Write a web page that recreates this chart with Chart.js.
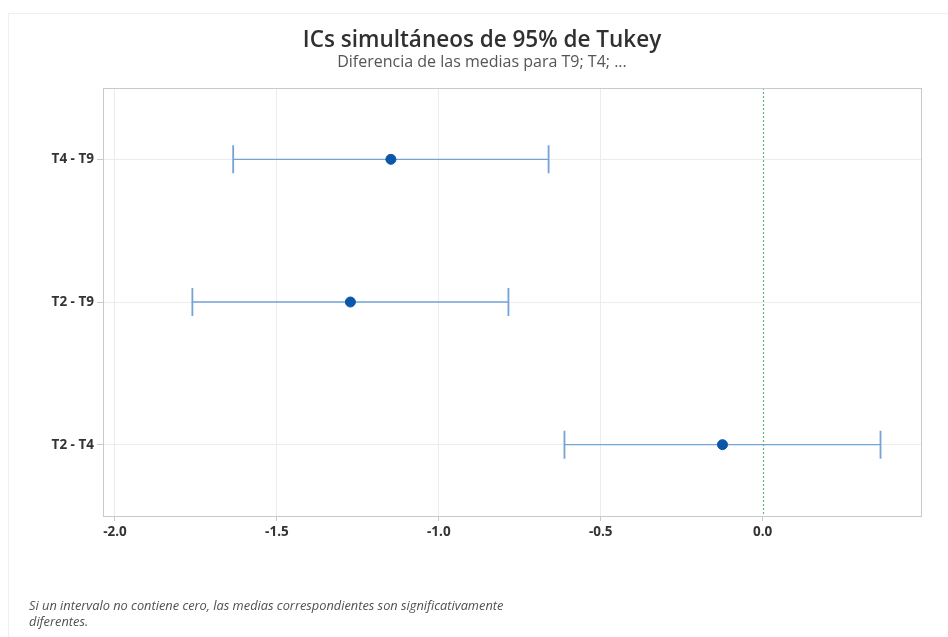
<!DOCTYPE html>
<html lang="es">
<head>
<meta charset="utf-8">
<title>ICs simultáneos de 95% de Tukey</title>
<script src="https://cdn.jsdelivr.net/npm/chart.js@4.4.1/dist/chart.umd.min.js"></script>
<style>
  html, body { margin: 0; padding: 0; background: #ffffff; }
  #wrap { width: 948px; height: 637px; position: relative; }
</style>
</head>
<body>
<div id="wrap"><canvas id="chart" width="948" height="637"></canvas></div>
<script>
// Pairwise comparisons (top to bottom)
const comparisons = ['T4 - T9', 'T2 - T9', 'T2 - T4'];
// Difference of means and the simultaneous 95% interval bounds
const meanDiff = [-1.148, -1.273, -0.124];
const lowerCI  = [-1.635, -1.761, -0.612];
const upperCI  = [-0.661, -0.785, 0.364];
// Axis tick values
const xTicks = [-2.0, -1.5, -1.0, -0.5, 0.0];

const titleText = 'ICs simultáneos de 95% de Tukey';
const subtitleText = 'Diferencia de las medias para T9; T4; ...';
const noteLines = [
  'Si un intervalo no contiene cero, las medias correspondientes son significativamente',
  'diferentes.'
];

const pointData = comparisons.map((c, i) => ({ x: meanDiff[i], y: c }));

// Interval whiskers with end caps and the zero reference line
const intervalPlugin = {
  id: 'intervals',
  beforeDatasetsDraw(chart) {
    const { ctx, chartArea, scales: { x, y } } = chart;
    ctx.save();
    ctx.strokeStyle = '#74a3d6';
    comparisons.forEach((c, i) => {
      const py = y.getPixelForValue(i);
      const x0 = x.getPixelForValue(lowerCI[i]);
      const x1 = x.getPixelForValue(upperCI[i]);
      ctx.lineWidth = 1.3;
      ctx.beginPath();
      ctx.moveTo(x0, py);
      ctx.lineTo(x1, py);
      ctx.stroke();
      ctx.lineWidth = 1.8;
      ctx.beginPath();
      ctx.moveTo(x0, py - 14);
      ctx.lineTo(x0, py + 14);
      ctx.moveTo(x1, py - 14);
      ctx.lineTo(x1, py + 14);
      ctx.stroke();
    });

    // reference at zero
    const zx = Math.round(x.getPixelForValue(0)) + 0.5;
    ctx.strokeStyle = '#5fb97f';
    ctx.lineWidth = 1.2;
    ctx.setLineDash([2, 2]);
    ctx.beginPath();
    ctx.moveTo(zx, chartArea.top);
    ctx.lineTo(zx, chartArea.bottom);
    ctx.stroke();
    ctx.restore();
  }
};

// Frame, titles and footnote
const decorPlugin = {
  id: 'decor',
  beforeDraw(chart) {
    const { ctx } = chart;
    ctx.save();
    ctx.fillStyle = '#ffffff';
    ctx.fillRect(0, 0, chart.width, chart.height);
    ctx.strokeStyle = '#efefef';
    ctx.lineWidth = 1;
    ctx.strokeRect(8.5, 13.5, 948, 640);
    ctx.restore();
  },
  afterDraw(chart) {
    const { ctx, chartArea } = chart;
    ctx.save();
    // plot frame
    ctx.strokeStyle = '#c9c9c9';
    ctx.lineWidth = 1;
    ctx.strokeRect(Math.round(chartArea.left) + 0.5, Math.round(chartArea.top) + 0.5,
      Math.round(chartArea.right - chartArea.left), Math.round(chartArea.bottom - chartArea.top));

    ctx.textAlign = 'center';
    ctx.textBaseline = 'middle';
    ctx.fillStyle = '#303030';
    ctx.font = '600 22.5px "Open Sans", "Noto Sans", sans-serif';
    ctx.fillText(titleText, 482, 41);
    ctx.fillStyle = '#555555';
    ctx.font = '16px "Open Sans", "Noto Sans", sans-serif';
    ctx.fillText(subtitleText, 482, 62);

    ctx.textAlign = 'left';
    ctx.fillStyle = '#505050';
    ctx.font = 'italic 12.8px "Open Sans", "Noto Sans", sans-serif';
    noteLines.forEach((t, i) => ctx.fillText(t, 29, 606 + i * 16));
    ctx.restore();
  }
};

new Chart(document.getElementById('chart'), {
  type: 'scatter',
  data: {
    labels: comparisons,
    datasets: [{
      data: pointData,
      backgroundColor: '#0b57a8',
      borderColor: '#0b57a8',
      pointRadius: 5,
      pointHoverRadius: 5,
      showLine: false
    }]
  },
  options: {
    responsive: false,
    animation: false,
    layout: { padding: { left: 0, right: 27, top: 88, bottom: 81 } },
    plugins: {
      legend: { display: false },
      tooltip: { enabled: false },
      title: { display: false }
    },
    scales: {
      x: {
        type: 'linear',
        min: -2.037,
        max: 0.489,
        afterFit(scale) { scale.height = 40; },
        afterBuildTicks(scale) { scale.ticks = xTicks.map(v => ({ value: v })); },
        border: { display: false },
        grid: {
          color: c => (c.tick && c.tick.value === 0) ? 'rgba(0,0,0,0)' : '#ececec',
          tickColor: '#c9c9c9', tickLength: 5, drawTicks: true
        },
        ticks: {
          color: '#333333',
          font: { family: '"Open Sans", "Noto Sans", sans-serif', size: 13.5, weight: '700' },
          padding: 3,
          callback: v => Number(v).toFixed(1)
        }
      },
      y: {
        type: 'category',
        labels: comparisons,
        offset: true,
        afterFit(scale) { scale.width = 103; },
        border: { display: false },
        grid: { color: '#ececec', tickColor: '#c9c9c9', tickLength: 6, offset: false },
        ticks: {
          color: '#333333',
          font: { family: '"Open Sans", "Noto Sans", sans-serif', size: 13.5, weight: '700' },
          padding: 3
        }
      }
    }
  },
  plugins: [decorPlugin, intervalPlugin]
});
</script>
</body>
</html>
